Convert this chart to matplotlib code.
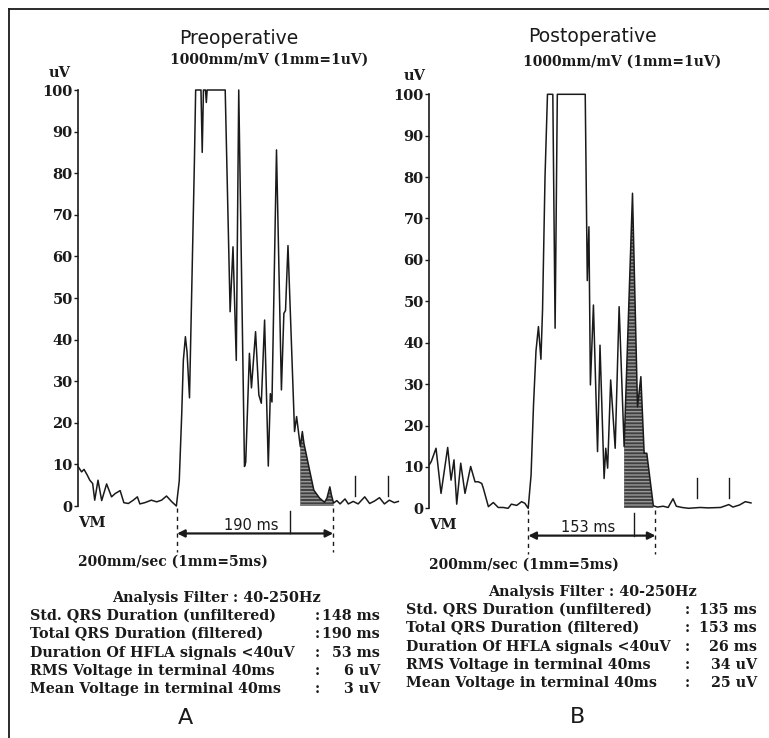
import numpy as np
import matplotlib
matplotlib.use("Agg")
import matplotlib.pyplot as plt
from matplotlib.lines import Line2D

# ---- data (time in ms from start of trace, amplitude in uV) ----
pre_t = [0, 4, 7, 11, 14, 17.5, 20, 24, 28.5, 34.5, 40.5, 45, 51, 55.5, 61, 67, 72, 75,
         81, 89, 95.5, 101.5, 107.5, 114, 119.5,
         123, 126, 128, 130.5, 132.5, 135.5, 137.5, 141.5, 143, 149.5, 151, 152.5, 155,
         156, 157, 179, 185, 188.5, 192.5, 195.5, 202.5, 204, 208.5, 211, 216, 220, 223,
         227, 231.5, 234, 236, 241.5, 247.5, 250.5, 252.5, 255.5, 263.5, 266, 270.5, 273,
         275, 280, 287, 294, 300, 303, 306.5, 308.5, 311, 315, 319, 325, 329, 335, 341,
         349, 355, 361, 367, 373, 379, 385, 390]
pre_v = [9.4, 8.2, 8.8, 7.4, 6.2, 5.4, 1.4, 6.2, 1.3, 5.3, 2.2, 3.0, 3.7, 0.8, 0.6, 1.4, 2.2, 0.5,
         0.8, 1.4, 1.0, 1.4, 2.4, 1.0, 0,
         6, 22, 35, 40.7, 37, 26, 45, 83, 100, 100, 85, 100, 100,
         97, 100, 100, 46.7, 62.3, 35, 100, 9.5, 10.5, 36.7, 28.4, 41.9, 26.7, 24.7,
         44.7, 9.6, 27, 25, 85.6, 27.9, 46.3, 47, 62.6, 17.9, 21.5, 14.3, 17.9,
         15, 10.3, 3.8, 1.9, 0.9, 1.9, 4.6, 2.6, 0.7, 1.3, 0.5, 1.7, 0.5, 1.1, 0.5,
         2.2, 0.6, 1.2, 2.0, 0.5, 1.4, 0.8, 1.1]

post_t = [0, 2.4, 8.2, 14.3, 22.4, 26.5, 30.1, 33.4, 38.3, 43.5, 50.4, 55.7, 59.8, 63.9, 65.9,
          72, 78, 84, 90, 96, 100, 106.5, 112.5, 116.5, 120.5,
          124, 127, 130, 133, 136, 138, 141, 144, 150.5, 153.3, 156, 190, 192.5, 194.5,
          196.3, 200, 205, 208, 213, 215, 217.3, 221, 226.5, 231.3, 237.4, 247.6, 253.7,
          257.8, 261.8, 265, 273, 278, 285, 291, 297, 301, 308, 316, 330, 340, 355, 365,
          370, 378, 385, 392]
post_v = [10.5, 11.3, 14.5, 3.6, 14.7, 6.8, 11.7, 1.0, 10.9, 3.6, 10.1, 6.4, 6.4, 6.0, 4.8,
          0.4, 1.4, 0.2, 0.2, 0, 1.0, 0.7, 1.6, 1.2, 0,
          8, 25, 38, 43.9, 36, 48, 80, 100, 100, 43.5, 100, 100, 55, 68,
          29.8, 49.1, 13.7, 39.4, 7.2, 14.5, 9.7, 31, 14.5, 48.7, 14.9, 76.1, 24.5,
          31.8, 13.3, 13.3, 0.6, 0.3, 0.5, 0.2, 2.3, 0.5, 0.2, 0, 0.2, 0.1, 0.2, 0.9,
          0.3, 0.8, 1.6, 1.3]

row_labels = ["Std. QRS Duration (unfiltered)",
              "Total QRS Duration (filtered)",
              "Duration Of HFLA signals <40uV",
              "RMS Voltage in terminal 40ms",
              "Mean Voltage in terminal 40ms"]
pre_values = ["148 ms", "190 ms", "53 ms", "6 uV", "3 uV"]
post_values = ["135 ms", "153 ms", "26 ms", "34 uV", "25 uV"]

pre_qrs = (120.4, 310.6)     # filtered QRS onset / offset
post_qrs = (120.7, 275.6)
pre_lp = (270.5, 311)        # shaded low amplitude tail
post_lp = (237.4, 273)

W, H = 769, 738
fig = plt.figure(figsize=(W / 100, H / 100), dpi=100)
fx = lambda px: px / W
fy = lambda py: 1 - py / H

serif = "DejaVu Serif"
ink = "#1a1a1a"

# frame of the scanned figure
fig.add_artist(Line2D([fx(8.5), fx(8.5)], [fy(9), 0], color=ink, lw=1.3))
fig.add_artist(Line2D([fx(8.5), 1], [fy(9), fy(9)], color=ink, lw=1.3))


def panel(x0, y0, y100, t, v, lp, qrs, marks, ms_text, tick_t):
    ax = fig.add_axes([fx(x0), fy(y0), 321.7 / W, (y0 - y100) / H])
    ax.set_xlim(0, 392)
    ax.set_ylim(0, 100)
    for s in ["top", "right", "bottom"]:
        ax.spines[s].set_visible(False)
    ax.spines["left"].set_linewidth(1.2)
    ax.spines["left"].set_color(ink)
    ax.set_xticks([])
    ax.set_yticks(np.arange(0, 101, 10))
    ax.tick_params(axis="y", length=3, width=1, pad=1, colors=ink)
    for lab in ax.get_yticklabels():
        lab.set_fontfamily(serif)
        lab.set_fontweight("bold")
        lab.set_fontsize(10.5)
    ax.patch.set_alpha(0)

    t = np.array(t)
    v = np.array(v)
    ax.plot(t, v, color=ink, lw=1.1, clip_on=False)
    m = (t >= lp[0]) & (t <= lp[1])
    ax.fill_between(t[m], 0, v[m], facecolor="0.25", edgecolor="0.6",
                    hatch="-----", lw=0)

    # timing markers
    for mt in marks:
        ax.plot([mt, mt], [2.5, 7.2], color=ink, lw=1.0, clip_on=False)

    # QRS duration arrow
    for q in qrs:
        ax.plot([q, q], [-0.5, -11], color=ink, lw=1.0, ls=(0, (3, 3)), clip_on=False)
    ax.annotate("", xy=(qrs[1], -6.6), xytext=(qrs[0], -6.6),
                arrowprops=dict(arrowstyle="<|-|>", color=ink, lw=1.6,
                                mutation_scale=11, shrinkA=0, shrinkB=0),
                annotation_clip=False)
    ax.plot([tick_t, tick_t], [-1.2, -6.6], color=ink, lw=1.0, clip_on=False)
    ax.text((qrs[0] + qrs[1]) / 2 - 5, -4.7, ms_text, ha="center", va="center",
            fontsize=10.5, color=ink, clip_on=False)
    return ax


panel(78.3, 506, 90, pre_t, pre_v, pre_lp, pre_qrs, [337.4, 376.8], "190 ms", 258)
panel(429.3, 508.3, 94.3, post_t, post_v, post_lp, post_qrs, [326, 365.5], "153 ms", 249.6)

bold = dict(fontfamily=serif, fontweight="bold", color=ink)

# headings
fig.text(fx(239), fy(38), "Preoperative", ha="center", va="center", fontsize=13.5, color=ink)
fig.text(fx(592), fy(37), "Postoperative", ha="center", va="center", fontsize=13.5, color=ink)
fig.text(fx(269), fy(60), "1000mm/mV (1mm=1uV)", ha="center", va="center", fontsize=10, **bold)
fig.text(fx(622), fy(62), "1000mm/mV (1mm=1uV)", ha="center", va="center", fontsize=10, **bold)
fig.text(fx(60), fy(73), "uV", ha="center", va="center", fontsize=10.5, **bold)
fig.text(fx(415), fy(76), "uV", ha="center", va="center", fontsize=10.5, **bold)
fig.text(fx(78), fy(523), "VM", ha="left", va="center", fontsize=10.5, **bold)
fig.text(fx(429), fy(525), "VM", ha="left", va="center", fontsize=10.5, **bold)
fig.text(fx(78), fy(562), "200mm/sec (1mm=5ms)", ha="left", va="center", fontsize=10, **bold)
fig.text(fx(429), fy(565), "200mm/sec (1mm=5ms)", ha="left", va="center", fontsize=10, **bold)

# result tables
def table(cx, y_head, rows_y, x_left, x_colon, x_right, values):
    fig.text(fx(cx), fy(y_head), "Analysis Filter : 40-250Hz", ha="center", va="center",
             fontsize=10.4, **bold)
    for yy, lab, val in zip(rows_y, row_labels, values):
        fig.text(fx(x_left), fy(yy), lab, ha="left", va="center", fontsize=10.3, **bold)
        fig.text(fx(x_colon), fy(yy), ":", ha="center", va="center", fontsize=10.3, **bold)
        fig.text(fx(x_right), fy(yy), val, ha="right", va="center", fontsize=10.3, **bold)


table(216, 598, [616, 634, 652.7, 671, 689], 30, 317, 380, pre_values)
table(592, 591.7, [610, 628, 646.7, 665, 682.7], 406, 687, 757, post_values)

fig.text(fx(185), fy(718), "A", ha="center", va="center", fontsize=16, color=ink)
fig.text(fx(577), fy(717), "B", ha="center", va="center", fontsize=16, color=ink)

fig.savefig("out.png", dpi=100)
